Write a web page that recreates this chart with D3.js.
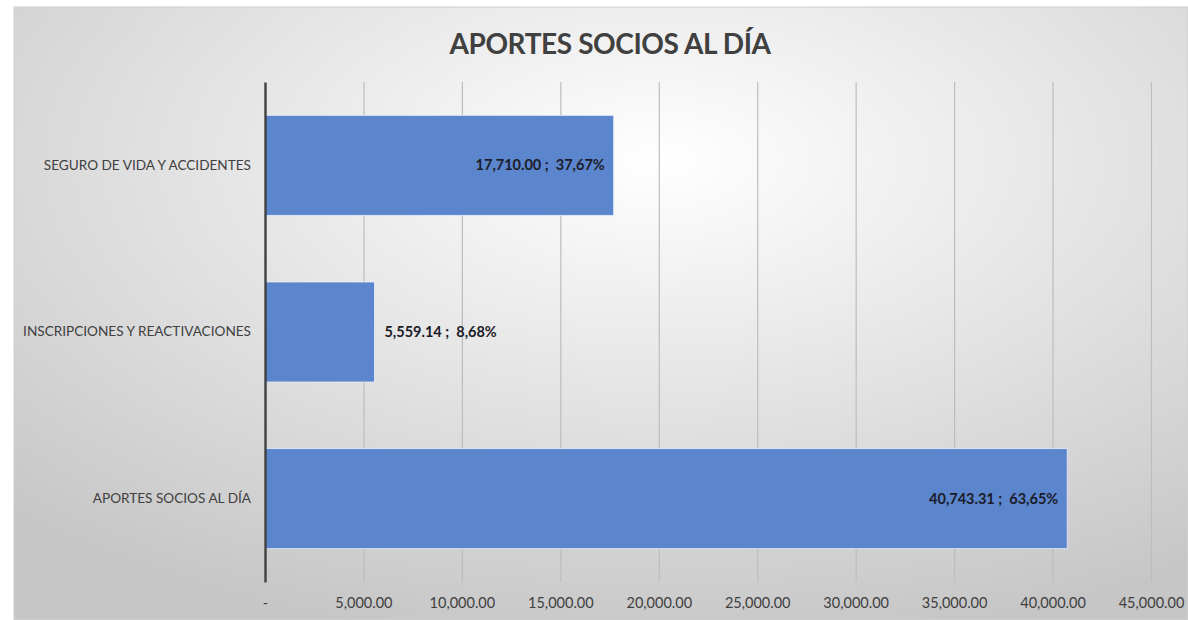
<!DOCTYPE html>
<html>
<head>
<meta charset="utf-8">
<script src="https://cdn.jsdelivr.net/npm/d3@7"></script>
<style>
  body { margin: 0; background: #fff; }
  text { font-family: Lato, "Open Sans", sans-serif; }
</style>
</head>
<body>
<script>
const width = 1188;
const height = 620;

const margin = { left: 265, right: 37, top: 82, bottom: 38 };

// datos
const categorias = ["SEGURO DE VIDA Y ACCIDENTES", "INSCRIPCIONES Y REACTIVACIONES", "APORTES SOCIOS AL DÍA"];
const valores = [17710.00, 5559.14, 40743.31];
const porcentajes = ["37,67%", "8,68%", "63,65%"];
const ticks = [0, 5000, 10000, 15000, 20000, 25000, 30000, 35000, 40000, 45000];
const titulo = "APORTES SOCIOS AL DÍA";

let svg = d3.select("body").append("svg")
    .attr("width", width)
    .attr("height", height);

let defs = svg.append("defs");
let grad = defs.append("radialGradient")
    .attr("id", "fondo")
    .attr("cx", "0.55").attr("cy", "0.25").attr("r", "0.8");
grad.append("stop").attr("offset", "0").attr("stop-color", "#ffffff");
grad.append("stop").attr("offset", "0.55").attr("stop-color", "#e0e0e0");
grad.append("stop").attr("offset", "1").attr("stop-color", "#c6c6c6");

svg.append("rect")
    .attr("x", 14).attr("y", 7)
    .attr("width", width - 14).attr("height", height - 7)
    .attr("fill", "url(#fondo)")
    .attr("stroke", "#d0d0d0");

svg.append("text")
    .attr("x", 610).attr("y", 54)
    .attr("text-anchor", "middle")
    .style("font-size", "28px")
    .style("font-weight", "bold")
    .style("letter-spacing", "-0.4px")
    .attr("fill", "#404040")
    .text(titulo);

let xScale = d3.scaleLinear()
    .domain([0, 45000])
    .range([margin.left, width - margin.right]);

let yScale = d3.scaleBand()
    .domain(categorias)
    .range([margin.top, height - margin.bottom])
    .paddingInner(0.4)
    .paddingOuter(0.2);

// lineas de division
let xAxis = svg.append("g")
    .attr("transform", "translate(0," + (height - margin.bottom) + ")")
    .call(d3.axisBottom(xScale)
        .tickValues(ticks)
        .tickSize(-(height - margin.top - margin.bottom))
        .tickPadding(16)
        .tickFormat(d => d === 0 ? "-" : d3.format(",.2f")(d)));

xAxis.select(".domain").remove();
xAxis.selectAll(".tick line")
    .attr("stroke", "#bdbdbd")
    .attr("stroke-width", 1.2)
    .filter(d => d === 0).remove();
xAxis.selectAll(".tick text")
    .style("font-size", "14.5px")
    .style("font-family", "Lato, 'Open Sans', sans-serif")
    .attr("fill", "#404040");

svg.selectAll(".bar")
    .data(valores)
    .enter()
    .append("rect")
    .attr("class", "bar")
    .attr("x", xScale(0))
    .attr("y", (d, i) => yScale(categorias[i]))
    .attr("width", d => xScale(d) - xScale(0))
    .attr("height", yScale.bandwidth())
    .attr("fill", "#5b85cd")
    .attr("stroke", "#e8eef8")
    .attr("stroke-width", 0.8);

// eje vertical
let yAxis = svg.append("g")
    .attr("transform", "translate(" + margin.left + ",0)")
    .call(d3.axisLeft(yScale).tickSize(0).tickPadding(14));
yAxis.select(".domain").attr("stroke", "#404040").attr("stroke-width", 2.4);
yAxis.selectAll(".tick text")
    .style("font-size", "13.6px")
    .style("font-family", "Lato, 'Open Sans', sans-serif")
    .attr("fill", "#404040");

svg.selectAll(".etiqueta")
    .data(valores)
    .enter()
    .append("text")
    .attr("class", "etiqueta")
    .attr("x", d => d > 10000 ? xScale(d) - 9 : xScale(d) + 10)
    .attr("y", (d, i) => yScale(categorias[i]) + yScale.bandwidth() / 2)
    .attr("dy", "0.35em")
    .attr("text-anchor", d => d > 10000 ? "end" : "start")
    .style("font-size", "14.5px")
    .style("font-weight", "bold")
    .attr("fill", "#1c1c28")
    .style("white-space", "pre")
    .text((d, i) => d3.format(",.2f")(d) + " ;  " + porcentajes[i]);
</script>
</body>
</html>
